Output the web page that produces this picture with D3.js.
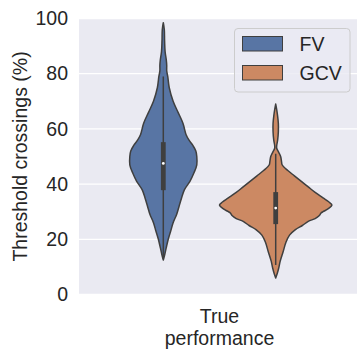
<!DOCTYPE html>
<html>
<head>
<meta charset="utf-8">
<script src="https://cdn.jsdelivr.net/npm/d3@7"></script>
<style>
  html, body { margin: 0; padding: 0; background: #ffffff; }
  svg { display: block; }
  text { font-family: "Liberation Sans", Arial, Helvetica, sans-serif; fill: #262626; }
</style>
</head>
<body>
<svg id="chart" width="357" height="358"></svg>
<script>
// Category and hue levels
const categories = ["True\nperformance"];
const hues = ["FV", "GCV"];
const hueColors = ["#5875A4", "#CC8963"];

// Kernel density profiles per hue: [value (%), relative density]
const fvDensity = [
  [98.5, 0], [96, 1.8], [92, 2.3], [88, 3.2], [85, 5.3], [83, 6.1], [81, 6.1],
  [79, 7.9], [75, 10.5], [70, 17.5], [66, 26.3], [62, 35.1], [58, 40.4],
  [56, 45.6], [54, 52.6], [52, 57.9], [50, 59.6], [47, 59.6], [44, 54.4],
  [41, 47.4], [38, 37.7], [35, 32.5], [32, 28.1], [29, 23.7], [26, 17.5],
  [23, 13.2], [20, 8.8], [17, 5.3], [14.5, 2.6], [12.5, 0]
];
const gcvDensity = [
  [69, 0], [67, 1.8], [65, 3.2], [62, 4.7], [59, 4.7], [56, 3.5], [54, 1.8],
  [53, 1.8], [51.5, 5.3], [50, 8.8], [48, 10.5], [47, 11.4], [45, 21],
  [43, 33.3], [41, 45.6], [39, 57.9], [37, 70.2], [35, 84.2], [33.5, 94.7],
  [32.4, 100], [31, 93], [30, 84.2], [29.5, 80.7], [28.5, 77.2], [27.5, 70.2],
  [26.5, 57.9], [25, 47.4], [23.5, 35.1], [21.5, 24.6], [19, 18.4],
  [15.5, 13.2], [12, 7.9], [9.5, 5.3], [7.5, 2.6], [6, 0]
];
const densities = [fvDensity, gcvDensity];

// Inner box statistics per hue: [whisker low, q1, median, q3, whisker high]
const fvBox = [13, 37.8, 47.5, 55.2, 79];
const gcvBox = [10.7, 25.5, 31.3, 37.1, 51];
const boxes = [fvBox, gcvBox];

// Axis ticks
const yTicks = [0, 20, 40, 60, 80, 100];
const yLabel = "Threshold crossings (%)";

const svg = d3.select("#chart");
const plot = { left: 79, right: 360, top: 18.5, bottom: 294.5 };

const x = d3.scaleLinear().domain([-0.5, 0.5]).range([plot.left, plot.right]);
const y = d3.scaleLinear().domain([0, 100]).range([plot.bottom, plot.top]);
const hueOffset = d3.scalePoint().domain(hues).range([-0.2, 0.2]);
const maxDensity = d3.max(densities.flat(), d => d[1]);
const halfWidth = d3.scaleLinear().domain([0, maxDensity]).range([0, 0.2]);

// Axes background
svg.append("rect")
  .attr("x", plot.left).attr("y", plot.top)
  .attr("width", plot.right - plot.left).attr("height", plot.bottom - plot.top)
  .attr("fill", "#EAEAF2");

// Horizontal grid
svg.append("g")
  .selectAll("line")
  .data(yTicks)
  .join("line")
  .attr("x1", plot.left).attr("x2", plot.right)
  .attr("y1", d => y(d)).attr("y2", d => y(d))
  .attr("stroke", "#ffffff").attr("stroke-width", 1.3);

// Y axis
const yAxis = d3.axisLeft(y).tickValues(yTicks).tickSize(0).tickPadding(11);
const gy = svg.append("g")
  .attr("transform", `translate(${plot.left},0)`)
  .call(yAxis);
gy.select(".domain").remove();
gy.selectAll("text")
  .attr("font-size", "19.5px")
  .attr("fill", "#262626")
  .attr("font-family", "'Liberation Sans', Arial, sans-serif");

// Y label
svg.append("text")
  .attr("transform", `translate(27,${(plot.top + plot.bottom) / 2}) rotate(-90)`)
  .attr("text-anchor", "middle")
  .attr("font-size", "19.5px")
  .text(yLabel);

// X tick labels (multi-line category name)
const xLabels = svg.append("g");
categories.forEach((c, i) => {
  const t = xLabels.append("text")
    .attr("text-anchor", "middle")
    .attr("font-size", "19.5px");
  c.split("\n").forEach((line, j) => {
    t.append("tspan")
      .attr("x", x(i))
      .attr("y", 323 + j * 22)
      .text(line);
  });
});

// Violins
const edge = "#3f3f3f";
hues.forEach((h, k) => {
  const cx = i => x(i + hueOffset(h));
  const area = d3.area()
    .y(d => y(d[0]))
    .x0(d => x(hueOffset(h) - halfWidth(d[1])))
    .x1(d => x(hueOffset(h) + halfWidth(d[1])))
    .curve(d3.curveCatmullRom.alpha(0.5));
  svg.append("path")
    .datum(densities[k])
    .attr("d", area)
    .attr("fill", hueColors[k])
    .attr("stroke", edge)
    .attr("stroke-width", 1.5)
    .attr("stroke-linejoin", "round");

  const b = boxes[k];
  const xc = cx(0);
  // whisker
  svg.append("line")
    .attr("x1", xc).attr("x2", xc)
    .attr("y1", y(b[0])).attr("y2", y(b[4]))
    .attr("stroke", edge).attr("stroke-width", 1.5);
  // interquartile box
  svg.append("line")
    .attr("x1", xc).attr("x2", xc)
    .attr("y1", y(b[1])).attr("y2", y(b[3]))
    .attr("stroke", edge).attr("stroke-width", 4.8);
  // median
  svg.append("circle")
    .attr("cx", xc).attr("cy", y(b[2]))
    .attr("r", 1.4)
    .attr("fill", "#ffffff");
});

// Legend
const legend = svg.append("g");
legend.append("rect")
  .attr("x", 234.5).attr("y", 28.5)
  .attr("width", 115.5).attr("height", 63.5)
  .attr("rx", 3.5)
  .attr("fill", "#EAEAF2").attr("fill-opacity", 0.8)
  .attr("stroke", "#cccccc").attr("stroke-width", 1);
hues.forEach((h, k) => {
  const ty = 36 + k * 29;
  legend.append("rect")
    .attr("x", 242.5).attr("y", ty + 0.5)
    .attr("width", 40).attr("height", 14.5)
    .attr("fill", hueColors[k])
    .attr("stroke", edge).attr("stroke-width", 1);
  legend.append("text")
    .attr("x", 299.5).attr("y", ty + 14.8)
    .attr("font-size", "19.5px")
    .text(h);
});
</script>
</body>
</html>
